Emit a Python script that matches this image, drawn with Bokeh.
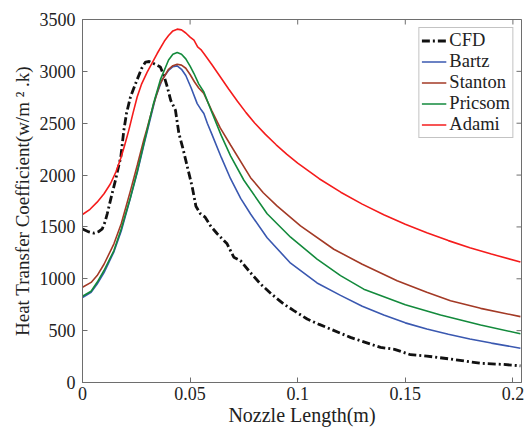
import math
from bokeh.plotting import figure
from bokeh.models import Range1d, FixedTicker, Legend, LegendItem
from bokeh.embed import file_html
from bokeh.resources import INLINE

# ---- data ----
cfd_x = [0.000, 0.003, 0.0053, 0.0075, 0.0092, 0.0105, 0.0115, 0.0135, 0.0153, 0.0165, 0.0178, 0.0192,
         0.0205, 0.0223, 0.025, 0.0275, 0.0293, 0.031, 0.0335, 0.0362, 0.0378, 0.0394, 0.041, 0.0432,
         0.0448, 0.0465, 0.048, 0.051, 0.0527, 0.0548, 0.057, 0.0595, 0.0626, 0.0672, 0.0703, 0.0734,
         0.078, 0.0827, 0.088, 0.0935, 0.0982, 0.1044, 0.110, 0.1152, 0.1245, 0.1385, 0.145, 0.1524,
         0.160, 0.171, 0.185, 0.195, 0.2035]
cfd_y = [1480, 1452, 1440, 1455, 1482, 1550, 1627, 1800, 1948, 2060, 2174, 2431,
         2600, 2753, 2900, 3030, 3090, 3095, 3070, 3043, 2960, 2850, 2720, 2625,
         2400, 2270, 2142, 1884, 1700, 1627, 1594, 1510, 1434, 1337, 1208, 1176,
         1060, 950, 850, 757, 693, 612, 560, 516, 435, 338, 320, 268,
         255, 226, 185, 175, 161]

bartz_x = [0.0, 0.004, 0.0068, 0.010, 0.0146, 0.018, 0.0223, 0.0255, 0.0285, 0.031, 0.034, 0.037,
           0.040, 0.042, 0.044, 0.046, 0.048, 0.0505, 0.0533, 0.0548, 0.0564, 0.058, 0.060, 0.0645,
           0.0688, 0.0735, 0.0781, 0.0858, 0.0967, 0.109, 0.1199, 0.130, 0.140, 0.150, 0.160, 0.170,
           0.180, 0.190, 0.2035]
bartz_y = [820, 870, 950, 1060, 1260, 1460, 1780, 2030, 2290, 2500, 2750, 2920,
           3010, 3045, 3053, 3020, 2960, 2840, 2689, 2640, 2593, 2500, 2400, 2170,
           1965, 1775, 1625, 1395, 1150, 960, 840, 735, 650, 575, 515, 465,
           420, 380, 330]

stanton_x = [0.0, 0.004, 0.0068, 0.010, 0.0146, 0.018, 0.0223, 0.0255, 0.0285, 0.030, 0.033, 0.036,
             0.040, 0.042, 0.044, 0.046, 0.048, 0.050, 0.052, 0.054, 0.0564, 0.060, 0.064, 0.0688,
             0.0781, 0.084, 0.0905, 0.1013, 0.1168, 0.130, 0.1462, 0.160, 0.171, 0.185, 0.2035]
stanton_y = [918, 965, 1031, 1140, 1337, 1530, 1850, 2100, 2340, 2450, 2680, 2880,
             3020, 3055, 3069, 3060, 3030, 2970, 2900, 2840, 2786, 2624, 2455, 2290,
             1975, 1830, 1700, 1510, 1285, 1140, 982, 870, 789, 715, 635]

pricsom_x = [0.0, 0.004, 0.0068, 0.010, 0.0146, 0.018, 0.0223, 0.0255, 0.0285, 0.030, 0.033, 0.0362,
             0.040, 0.042, 0.044, 0.046, 0.048, 0.050, 0.0518, 0.054, 0.0564, 0.060, 0.0645, 0.0688,
             0.075, 0.0858, 0.0967, 0.109, 0.1199, 0.1307, 0.150, 0.1664, 0.185, 0.2035]
pricsom_y = [831, 880, 966, 1080, 1272, 1480, 1787, 2040, 2303, 2431, 2690, 2920,
             3110, 3165, 3182, 3165, 3120, 3050, 2979, 2880, 2801, 2610, 2380, 2185,
             1950, 1627, 1401, 1190, 1031, 900, 750, 650, 555, 470]

adami_x = [0.0, 0.0035, 0.0068, 0.010, 0.013, 0.0155, 0.0177, 0.0195, 0.0215, 0.0235, 0.0254, 0.0275,
           0.030, 0.0347, 0.038, 0.040, 0.042, 0.044, 0.046, 0.048, 0.050, 0.0518, 0.0535, 0.055,
           0.0564, 0.060, 0.064, 0.068, 0.072, 0.076, 0.080, 0.085, 0.090, 0.095, 0.100, 0.110,
           0.120, 0.130, 0.140, 0.150, 0.160, 0.170, 0.180, 0.190, 0.2035]
adami_y = [1620, 1670, 1739, 1820, 1916, 2030, 2158, 2280, 2431, 2600, 2753, 2880,
           2990, 3172, 3290, 3345, 3390, 3407, 3400, 3370, 3330, 3300, 3235, 3210,
           3172, 3068, 2948, 2828, 2712, 2602, 2502, 2392, 2292, 2200, 2115, 1965,
           1835, 1720, 1618, 1526, 1443, 1368, 1300, 1238, 1162]

x_max = 0.204
y_max = 3500
x_ticks = [0, 0.05, 0.1, 0.15, 0.2]
x_tick_labels = ["0", "0.05", "0.1", "0.15", "0.2"]
y_ticks = [0, 500, 1000, 1500, 2000, 2500, 3000, 3500]

FONT = "Liberation Serif"
AX = "#6e6e6e"
TXT = "#222222"

p = figure(frame_width=439, frame_height=363,
           x_range=Range1d(0, x_max), y_range=Range1d(0, y_max),
           output_backend="svg", toolbar_location=None,
           min_border_left=82, min_border_top=19, min_border_right=3, min_border_bottom=48)
p.grid.visible = False
p.outline_line_color = AX
p.background_fill_color = "white"
p.border_fill_color = "white"

for ax in (p.xaxis[0], p.yaxis[0]):
    ax.axis_line_color = AX
    ax.major_tick_line_color = AX
    ax.minor_tick_line_color = None
    ax.major_tick_in = 5
    ax.major_tick_out = 0
    ax.major_label_text_font = FONT
    ax.major_label_text_font_size = "18px"
    ax.major_label_text_color = TXT
    ax.axis_label_text_font = FONT
    ax.axis_label_text_font_style = "normal"
    ax.axis_label_text_color = TXT

p.xaxis.ticker = FixedTicker(ticks=x_ticks)
p.xaxis.major_label_overrides = {t: l for t, l in zip(x_ticks, x_tick_labels)}
p.yaxis.ticker = FixedTicker(ticks=y_ticks)
p.xaxis.axis_label = "Nozzle Length(m)"
p.yaxis.axis_label = "Heat Transfer Coefficient(w/m ² .k)"
p.xaxis.axis_label_text_font_size = "20px"
p.yaxis.axis_label_text_font_size = "19px"
p.xaxis.major_label_standoff = 4
p.yaxis.major_label_standoff = 7
p.xaxis.axis_label_standoff = 1
p.yaxis.axis_label_standoff = 4

# inward tick marks on the top and right sides of the box (clipped to the frame)
p.scatter(x_ticks, [y_max] * len(x_ticks), marker="dash", angle=math.pi / 2, size=10,
          line_color=AX, line_width=1)
p.scatter([x_max] * len(y_ticks), y_ticks, marker="dash", size=10,
          line_color=AX, line_width=1)

r_cfd = p.line(cfd_x, cfd_y, line_color="#111111", line_width=2.8, line_dash="8 3 2 3")
r_bartz = p.line(bartz_x, bartz_y, line_color="#3a58b0", line_width=1.6)
r_stanton = p.line(stanton_x, stanton_y, line_color="#a33a26", line_width=1.6)
r_pricsom = p.line(pricsom_x, pricsom_y, line_color="#138a3c", line_width=1.6)
r_adami = p.line(adami_x, adami_y, line_color="#f51c1c", line_width=1.6)

legend = Legend(items=[
    LegendItem(label="CFD", renderers=[r_cfd]),
    LegendItem(label="Bartz", renderers=[r_bartz]),
    LegendItem(label="Stanton", renderers=[r_stanton]),
    LegendItem(label="Pricsom", renderers=[r_pricsom]),
    LegendItem(label="Adami", renderers=[r_adami]),
], location="top_right")
legend.label_text_font = FONT
legend.label_text_font_size = "18.5px"
legend.label_text_color = TXT
legend.glyph_width = 25
legend.glyph_height = 19
legend.label_height = 19
legend.label_standoff = 3
legend.spacing = 0
legend.padding = 2
legend.margin = 8
legend.border_line_color = "#888888"
legend.border_line_width = 1
legend.background_fill_alpha = 1
p.add_layout(legend, "center")

open("out.html", "w").write(file_html(p, INLINE))
